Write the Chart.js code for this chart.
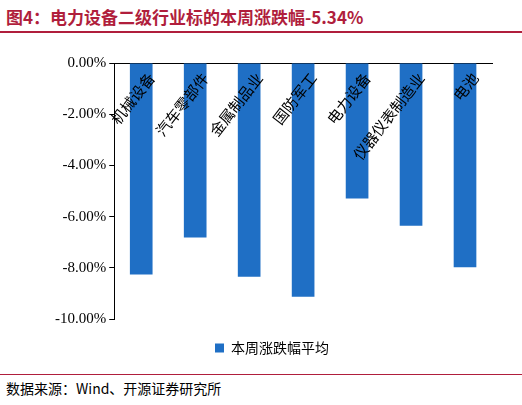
<!DOCTYPE html>
<html><head><meta charset="utf-8">
<script src="https://cdn.jsdelivr.net/npm/chart.js@4/dist/chart.umd.min.js"></script>
<style>
body{margin:0;width:522px;height:405px;background:#fff;position:relative;font-family:"Noto Sans CJK SC",sans-serif;overflow:hidden}
#title{position:absolute;left:6px;top:4px;font-size:17px;font-weight:bold;color:#b01e3c;font-family:"Noto Sans CJK SC"}
#tline{position:absolute;left:0;top:31px;width:522px;height:2px;background:#b01e3c}
#src{position:absolute;left:6px;top:378px;font-size:14px;color:#000;font-family:"Noto Sans CJK SC"}
#sline{position:absolute;left:0;top:374px;width:522px;height:1px;background:#b01e3c}
#wrap{position:absolute;left:0;top:35px;width:522px;height:330px}
</style></head><body>
<div id="title">图4：电力设备二级行业标的本周涨跌幅-5.34%</div>
<div id="tline"></div>
<div id="wrap"><canvas id="c"></canvas></div>
<div id="sline"></div>
<div id="src">数据来源：Wind、开源证券研究所</div>
<script>
const categories = ["机械设备","汽车零部件","金属制品业","国防军工","电力设备","仪器仪表制造业","电池"];
const values = [-8.26,-6.82,-8.35,-9.13,-5.29,-6.36,-7.98];
const seriesName = "本周涨跌幅平均";

const rotLabels = {
  id:"rotLabels",
  afterDatasetsDraw(chart){
    const ctx = chart.ctx, x = chart.scales.x, y = chart.scales.y;
    ctx.save();
    ctx.font = "15px 'Noto Sans CJK SC'";
    ctx.fillStyle = "#000";
    ctx.textAlign = "right";
    ctx.textBaseline = "middle";
    categories.forEach((c,i)=>{
      ctx.save();
      ctx.translate(x.getPixelForValue(i)+10, y.getPixelForValue(0)+12);
      ctx.rotate(-52*Math.PI/180);
      ctx.fillText(c,0,0);
      ctx.restore();
    });
    ctx.restore();
  }
};

new Chart(document.getElementById("c"),{
  type:"bar",
  data:{labels:categories,datasets:[{label:seriesName,data:values,backgroundColor:"#1f6fc5",barPercentage:0.42,categoryPercentage:1}]},
  options:{
    responsive:true,maintainAspectRatio:false,animation:false,
    layout:{padding:{top:20,right:30,left:52}},
    plugins:{
      legend:{position:"bottom",labels:{boxWidth:9,boxHeight:9,font:{size:14,family:"Noto Sans CJK SC"},color:"#000",padding:22}},
      tooltip:{enabled:false}
    },
    scales:{
      x:{position:"top",ticks:{display:false},grid:{display:false},border:{color:"#000"}},
      y:{min:-10,max:0,ticks:{stepSize:2,color:"#000",font:{size:15,family:"Liberation Serif"},callback:v=>v.toFixed(2)+"%"},
         grid:{drawOnChartArea:false,tickLength:5,color:"#000"},border:{color:"#000"}}
    }
  },
  plugins:[rotLabels]
});
</script>
</body></html>
